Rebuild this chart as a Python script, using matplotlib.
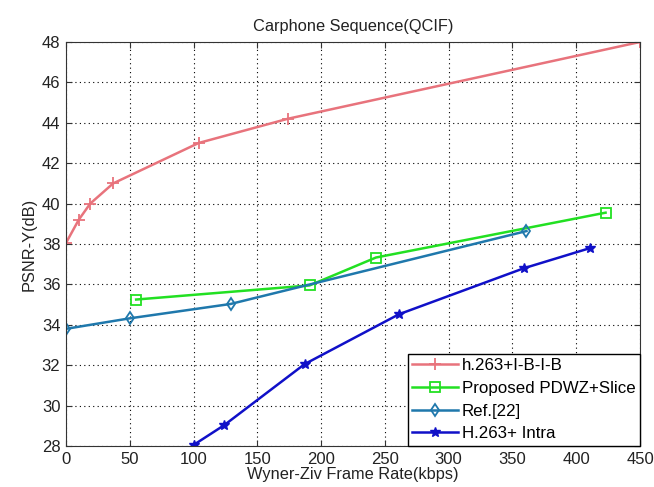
import matplotlib
matplotlib.use("Agg")
import matplotlib.pyplot as plt

plt.rcParams["font.family"] = ["Liberation Sans", "DejaVu Sans"]

# data
h263_ibib_x = [0, 10, 19, 37, 104, 174, 450]
h263_ibib_y = [38.05, 39.2, 40.0, 41.0, 43.0, 44.2, 48.0]

pdwz_x = [55, 191, 243, 423]
pdwz_y = [35.25, 35.95, 37.33, 39.55]

ref22_x = [0, 50, 129, 361]
ref22_y = [33.8, 34.32, 35.03, 38.64]

intra_x = [100, 124, 187, 261, 359, 411]
intra_y = [28.05, 29.03, 32.05, 34.52, 36.8, 37.8]

fig = plt.figure(figsize=(6.54, 4.87), dpi=100)
ax = fig.add_axes([0.1009, 0.0842, 0.8777, 0.8296])

ax.plot(h263_ibib_x, h263_ibib_y, color="#E8737C", marker="+", markersize=8,
        markeredgewidth=1.3, linewidth=1.8, label="h.263+I-B-I-B")
ax.plot(pdwz_x, pdwz_y, color="#22E022", marker="s", markersize=6.5,
        markerfacecolor="none", markeredgewidth=1.3, linewidth=1.8,
        label="Proposed PDWZ+Slice")
ax.plot(ref22_x, ref22_y, color="#1F78AC", marker="d", markersize=6.5,
        markerfacecolor="none", markeredgewidth=1.3, linewidth=1.8,
        label="Ref.[22]")
ax.plot(intra_x, intra_y, color="#1010C8", marker="*", markersize=7,
        linewidth=1.8, label="H.263+ Intra")

ax.set_xlim(0, 450)
ax.set_ylim(28, 48)
ax.set_xticks(range(0, 451, 50))
ax.set_yticks(range(28, 49, 2))
ax.grid(True, color="black", linestyle=(0, (1, 3)), linewidth=0.8)
ax.tick_params(direction="in", top=True, right=True, labelsize=12,
               length=4, pad=4, color="#333333", labelcolor="#222222")
for s in ax.spines.values():
    s.set_color("#333333")

ax.set_title("Carphone Sequence(QCIF)", fontsize=11.8, color="#222222", pad=8)
ax.set_xlabel("Wyner-Ziv Frame Rate(kbps)", fontsize=11.8, color="#222222",
              labelpad=0)
ax.set_ylabel("PSNR-Y(dB)", fontsize=11.8, color="#222222", labelpad=4)

leg = ax.legend(loc="lower right", fontsize=12.2, fancybox=False,
                edgecolor="black", framealpha=1, borderaxespad=0,
                handlelength=2.7, labelspacing=0.45, borderpad=0.28,
                handletextpad=0.2)
leg.get_frame().set_linewidth(1.0)

fig.savefig("out.png", dpi=100, facecolor="white")
